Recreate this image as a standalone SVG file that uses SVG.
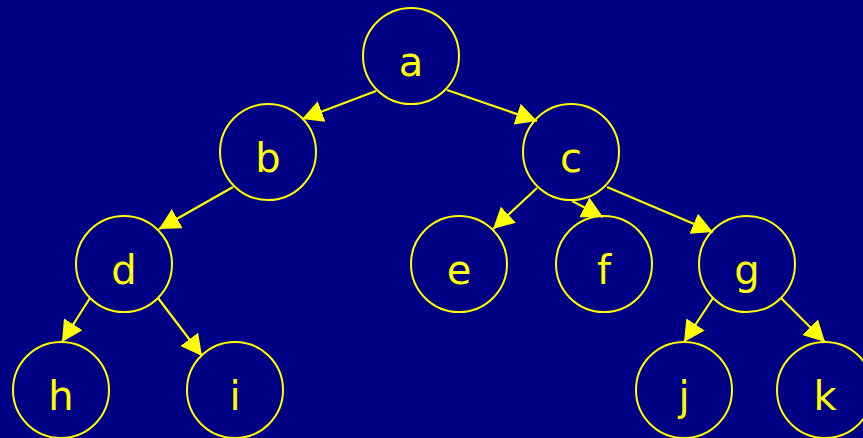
<svg xmlns="http://www.w3.org/2000/svg" width="863" height="438" viewBox="0 0 863 438">
<defs>
<style>
.n circle{fill:none;stroke:#FFFF00;stroke-width:2}
.n text{fill:#FFFF00;font-family:"DejaVu Sans",Verdana,sans-serif;font-size:40px;text-anchor:middle}
#edges line{stroke:#FFFF00;stroke-width:2.2;marker-end:url(#ah)}
</style>
<marker id="ah" markerUnits="userSpaceOnUse" markerWidth="22" markerHeight="22" refX="21" refY="11" orient="auto">
<path d="M0,0 L21,11 L0,22 z" fill="#FFFF00"/>
</marker>
</defs>
<rect width="863" height="438" fill="#000084"/>
<g id="edges">
<line x1="376" y1="91" x2="302" y2="119"/>
<line x1="447" y1="90" x2="537" y2="121"/>
<line x1="233" y1="187" x2="159" y2="229"/>
<line x1="537" y1="188" x2="493" y2="229"/>
<line x1="572" y1="201" x2="603" y2="217"/>
<line x1="607" y1="187" x2="713" y2="232"/>
<line x1="90" y1="298" x2="62" y2="342"/>
<line x1="158" y1="298" x2="202" y2="356"/>
<line x1="713" y1="298" x2="684" y2="342"/>
<line x1="781" y1="298" x2="825" y2="342"/>
</g>
<g id="a" class="n"><circle cx="411" cy="56" r="48"/><text x="411" y="76">a</text></g>
<g id="b" class="n"><circle cx="268" cy="152" r="48"/><text x="268" y="172">b</text></g>
<g id="c" class="n"><circle cx="571" cy="152" r="48"/><text x="571" y="172">c</text></g>
<g id="d" class="n"><circle cx="124" cy="264" r="48"/><text x="124" y="284">d</text></g>
<g id="e" class="n"><circle cx="459" cy="264" r="48"/><text x="459" y="284">e</text></g>
<g id="f" class="n"><circle cx="604" cy="264" r="48"/><text x="604" y="284">f</text></g>
<g id="g" class="n"><circle cx="747" cy="264" r="48"/><text x="747" y="284">g</text></g>
<g id="h" class="n"><circle cx="61" cy="390" r="48"/><text x="61" y="410">h</text></g>
<g id="i" class="n"><circle cx="235" cy="390" r="48"/><text x="235" y="410">i</text></g>
<g id="j" class="n"><circle cx="684" cy="390" r="48"/><text x="684" y="410">j</text></g>
<g id="k" class="n"><circle cx="825" cy="390" r="48"/><text x="825" y="410">k</text></g>
</svg>
